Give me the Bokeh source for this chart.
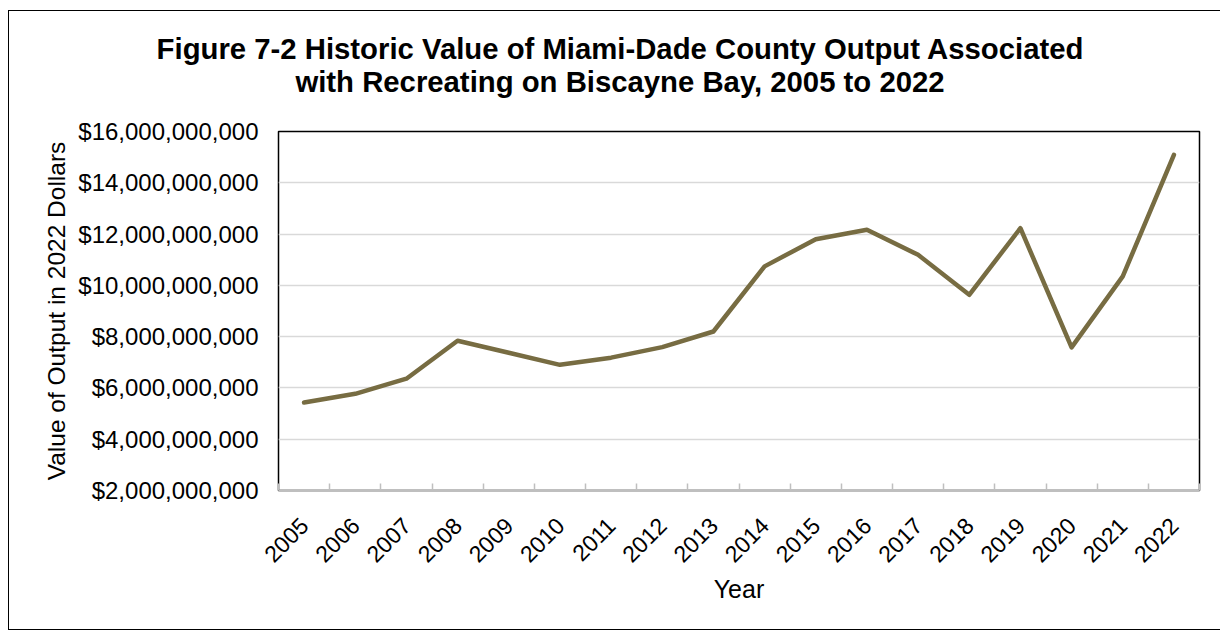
import math
from bokeh.plotting import figure
from bokeh.layouts import column
from bokeh.models import (Range1d, FixedTicker, NumeralTickFormatter, Div)
from bokeh.embed import file_html
from bokeh.resources import INLINE

years = [2005, 2006, 2007, 2008, 2009, 2010, 2011, 2012, 2013, 2014,
         2015, 2016, 2017, 2018, 2019, 2020, 2021, 2022]
values = [5.43e9, 5.77e9, 6.36e9, 7.84e9, 7.37e9, 6.90e9, 7.18e9, 7.59e9, 8.20e9,
          10.74e9, 11.80e9, 12.17e9, 11.19e9, 9.63e9, 12.23e9, 7.58e9, 10.35e9, 15.09e9]
y_ticks = [2e9, 4e9, 6e9, 8e9, 10e9, 12e9, 14e9, 16e9]
title_lines = ["Figure 7-2 Historic Value of Miami-Dade County Output Associated",
               "with Recreating on Biscayne Bay, 2005 to 2022"]

FONT = "Liberation Sans"

p = figure(width=1210, height=518, output_backend="svg", toolbar_location=None,
           x_range=Range1d(years[0] - 0.5, years[-1] + 0.5),
           y_range=Range1d(2e9, 16e9),
           min_border_left=269, min_border_right=20, min_border_top=20, min_border_bottom=139)

p.line(years, values, line_color="#776C42", line_width=4.5, line_join="round", line_cap="round")

p.outline_line_color = "black"
p.outline_line_width = 1.5

# y axis
p.yaxis.ticker = FixedTicker(ticks=y_ticks)
p.yaxis.formatter = NumeralTickFormatter(format="$0,0")
p.yaxis.major_tick_line_color = None
p.yaxis.minor_tick_line_color = None
p.yaxis.axis_line_color = None
p.yaxis.major_label_text_font = FONT
p.yaxis.major_label_text_font_size = "24px"
p.yaxis.major_label_text_color = "black"
p.yaxis.major_label_standoff = 14
p.yaxis.axis_label = "Value of Output in 2022 Dollars"
p.yaxis.axis_label_text_font = FONT
p.yaxis.axis_label_text_font_size = "24.5px"
p.yaxis.axis_label_text_font_style = "normal"
p.yaxis.axis_label_text_color = "black"
p.yaxis.axis_label_standoff = 5

# x axis
p.xaxis.ticker = FixedTicker(ticks=years, minor_ticks=[y - 0.5 for y in years] + [years[-1] + 0.5])
p.xaxis.major_label_overrides = {y: str(y) for y in years}
p.xaxis.major_tick_line_color = None
p.xaxis.minor_tick_line_color = "#BFBFBF"
p.xaxis.minor_tick_line_width = 1.5
p.xaxis.minor_tick_in = 7
p.xaxis.minor_tick_out = 0
p.xaxis.axis_line_color = "#BFBFBF"
p.xaxis.axis_line_width = 2
p.xaxis.major_label_orientation = math.pi / 4
p.xaxis.major_label_text_font = FONT
p.xaxis.major_label_text_font_size = "23px"
p.xaxis.major_label_text_color = "black"
p.xaxis.major_label_standoff = 25
p.xaxis.axis_label = "Year"
p.xaxis.axis_label_text_font = FONT
p.xaxis.axis_label_text_font_size = "25px"
p.xaxis.axis_label_text_font_style = "normal"
p.xaxis.axis_label_text_color = "black"
p.xaxis.axis_label_standoff = 2

p.xgrid.grid_line_color = None
p.ygrid.grid_line_color = "#D9D9D9"
p.ygrid.grid_line_width = 1.5

title_html = (
    '<div style="width:1210px; margin-left:1px; padding-top:16px; text-align:center; '
    'font-family:\'Liberation Sans\', Arial, sans-serif; font-size:29.3px; font-weight:bold; '
    'line-height:33px; color:black; white-space:nowrap;">'
    + title_lines[0] + '<br>' + title_lines[1] + '</div>'
)
div = Div(text=title_html, width=1210, height=90)

layout = column(div, p, spacing=0,
                styles={"border": "1.5px solid black", "margin-top": "10px", "margin-left": "8px"})

open("out.html", "w").write(file_html(layout, INLINE))
